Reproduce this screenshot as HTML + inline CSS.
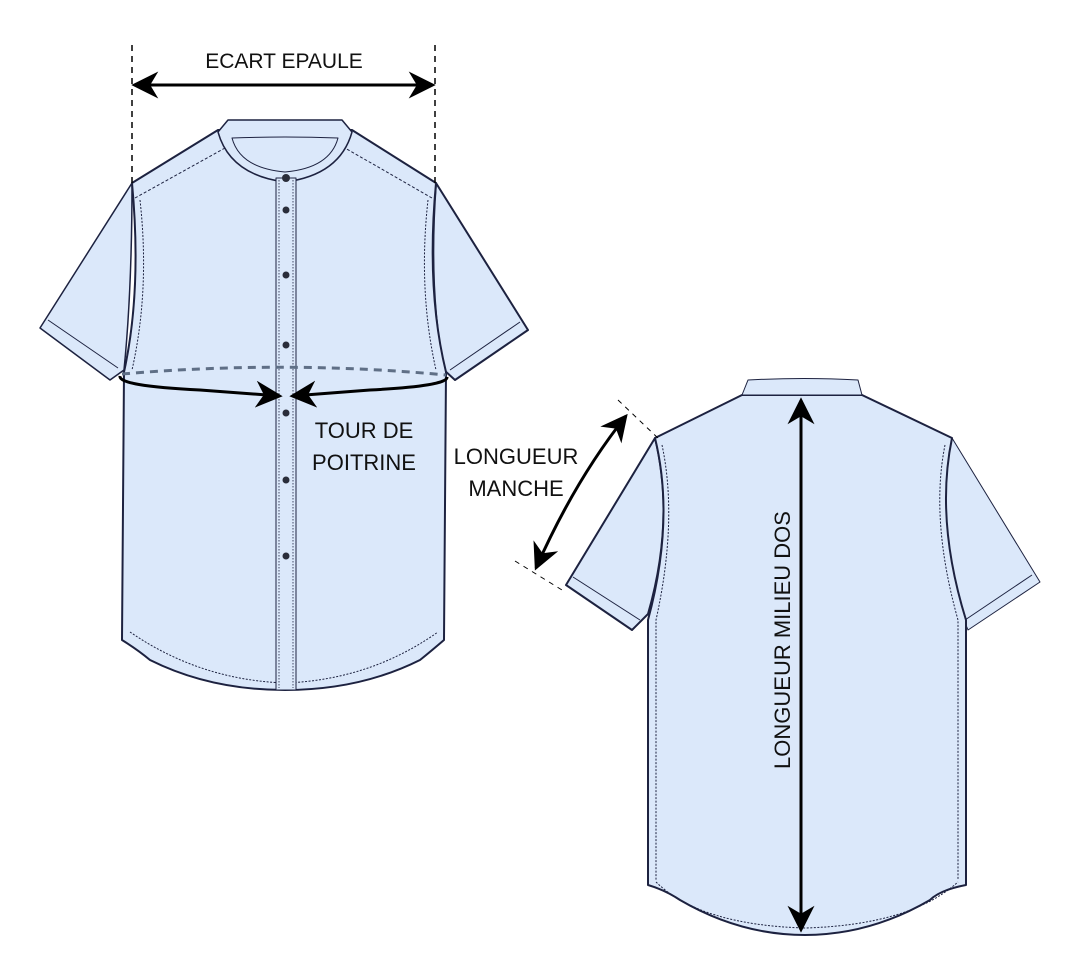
<!DOCTYPE html>
<html><head><meta charset="utf-8"><style>
html,body{margin:0;padding:0;background:#fff;width:1080px;height:972px;overflow:hidden}
svg{display:block}
text{font-family:"Liberation Sans",sans-serif;fill:#111}
</style></head><body>
<svg width="1080" height="972" viewBox="0 0 1080 972" xmlns="http://www.w3.org/2000/svg">
<defs>
<marker id="ah" viewBox="0 0 10 10" refX="9" refY="5" markerWidth="9" markerHeight="9" orient="auto-start-reverse">
<path d="M0,0 L10,5 L0,10 L3,5 z" fill="#000"/></marker>
</defs>
<g stroke="#1d2240" stroke-width="1.5" fill="#dbe8fa" stroke-linejoin="round">
<path d="M132,183 L40,328 L110,380 L124,370 Q132,290 132,183 z"/>
<path d="M48,320 L118,368" fill="none" stroke-width="1"/>
<path d="M436,183 L528,330 L455,380 L444,370 Q428,290 436,183 z" stroke-width="2"/>
<path d="M520,322 L450,370" fill="none" stroke-width="1"/>
<path d="M132,183 L218,130 L352,130 L436,183 Q426,290 446,372 L444,640 Q430,652 420,660 Q360,690 285,690 Q210,690 150,660 Q138,650 122,640 L124,372 Q142,290 132,183 z" stroke-width="2"/>
<path d="M135,198 L225,148 M432,198 L345,148" fill="none" stroke-width="1" stroke-dasharray="3 2"/>
<path d="M140,200 Q150,290 132,370 M428,200 Q418,290 436,370" fill="none" stroke-width="1" stroke-dasharray="2 1.5"/>
<path d="M130,632 Q200,680 285,683 Q370,680 438,632" fill="none" stroke-width="1" stroke-dasharray="2 1.5"/>
<path d="M228,120 L342,120 L352,132 Q340,175 285,182 Q230,175 218,132 z"/>
<path d="M232,138 Q285,136 338,138 Q330,168 285,172 Q240,168 232,138 z" fill="#dbe8fa" stroke-width="1"/>
<rect x="276" y="178" width="20" height="512" stroke-width="1"/>
<line x1="279" y1="180" x2="279" y2="688" stroke-width="0.8" stroke-dasharray="1.5 1.5"/>
<line x1="293" y1="180" x2="293" y2="688" stroke-width="0.8" stroke-dasharray="1.5 1.5"/>
</g>
<g fill="#2a2d3a">
<circle cx="286" cy="178" r="4"/><circle cx="286" cy="210" r="3.5"/><circle cx="286" cy="275" r="3.5"/>
<circle cx="286" cy="345" r="3.5"/><circle cx="286" cy="413" r="3.5"/><circle cx="286" cy="480" r="3.5"/><circle cx="286" cy="556" r="3.5"/>
</g>
<path d="M122,374 Q285,360 446,375" fill="none" stroke="#5f6f86" stroke-width="3" stroke-dasharray="8 6"/>
<path d="M120,376 Q118,386 200,390 L280,396" fill="none" stroke="#000" stroke-width="3" marker-end="url(#ah)"/>
<path d="M447,377 Q448,386 370,390 L292,396" fill="none" stroke="#000" stroke-width="3" marker-end="url(#ah)"/>
<text x="364" y="438" font-size="22" text-anchor="middle">TOUR DE</text>
<text x="364" y="470" font-size="22" text-anchor="middle">POITRINE</text>
<line x1="132" y1="45" x2="132" y2="183" stroke="#000" stroke-width="1.5" stroke-dasharray="6 5"/>
<line x1="435" y1="45" x2="435" y2="183" stroke="#000" stroke-width="1.5" stroke-dasharray="6 5"/>
<line x1="134" y1="85" x2="433" y2="85" stroke="#000" stroke-width="3" marker-start="url(#ah)" marker-end="url(#ah)"/>
<text x="284" y="68" font-size="21" text-anchor="middle">ECART EPAULE</text>

<g stroke="#1d2240" stroke-width="1.5" fill="#dbe8fa" stroke-linejoin="round">
<path d="M655,438 L566,585 L632,630 L648,614 Q675,520 655,438 z" stroke-width="2"/>
<path d="M573,577 L640,620" fill="none" stroke-width="1"/>
<path d="M952,438 L1040,582 L968,630 L962,615 Q935,520 952,438 z" stroke-width="1"/>
<path d="M1032,575 L965,620" fill="none" stroke-width="1"/>
<path d="M655,438 L742,395 L862,395 L952,438 Q935,520 966,620 L966,885 Q940,890 930,900 Q870,935 805,935 Q740,935 680,900 Q665,890 648,885 L648,620 Q675,520 655,438 z" stroke-width="2"/>
<path d="M742,395 L748,380 Q805,377 858,380 L862,395 z" stroke-width="1"/>
<path d="M662,445 Q678,520 656,620 L656,880 M945,445 Q930,520 958,620 L958,880" fill="none" stroke-width="1" stroke-dasharray="2 1.5"/>
<path d="M656,882 Q700,925 805,928 Q910,925 958,882" fill="none" stroke-width="1" stroke-dasharray="2 1.5"/>
</g>
<line x1="801" y1="400" x2="801" y2="930" stroke="#000" stroke-width="3" marker-start="url(#ah)" marker-end="url(#ah)"/>
<text transform="translate(790,640) rotate(-90)" font-size="22" text-anchor="middle">LONGUEUR  MILIEU  DOS</text>
<line x1="618" y1="400" x2="660" y2="440" stroke="#000" stroke-width="1" stroke-dasharray="5 5"/>
<line x1="515" y1="561" x2="562" y2="590" stroke="#000" stroke-width="1" stroke-dasharray="5 5"/>
<path d="M626,416 Q575,480 536,568" fill="none" stroke="#000" stroke-width="3" marker-start="url(#ah)" marker-end="url(#ah)"/>
<text x="516" y="464" font-size="22" text-anchor="middle">LONGUEUR</text>
<text x="516" y="496" font-size="22" text-anchor="middle">MANCHE</text>
</svg>
</body></html>
